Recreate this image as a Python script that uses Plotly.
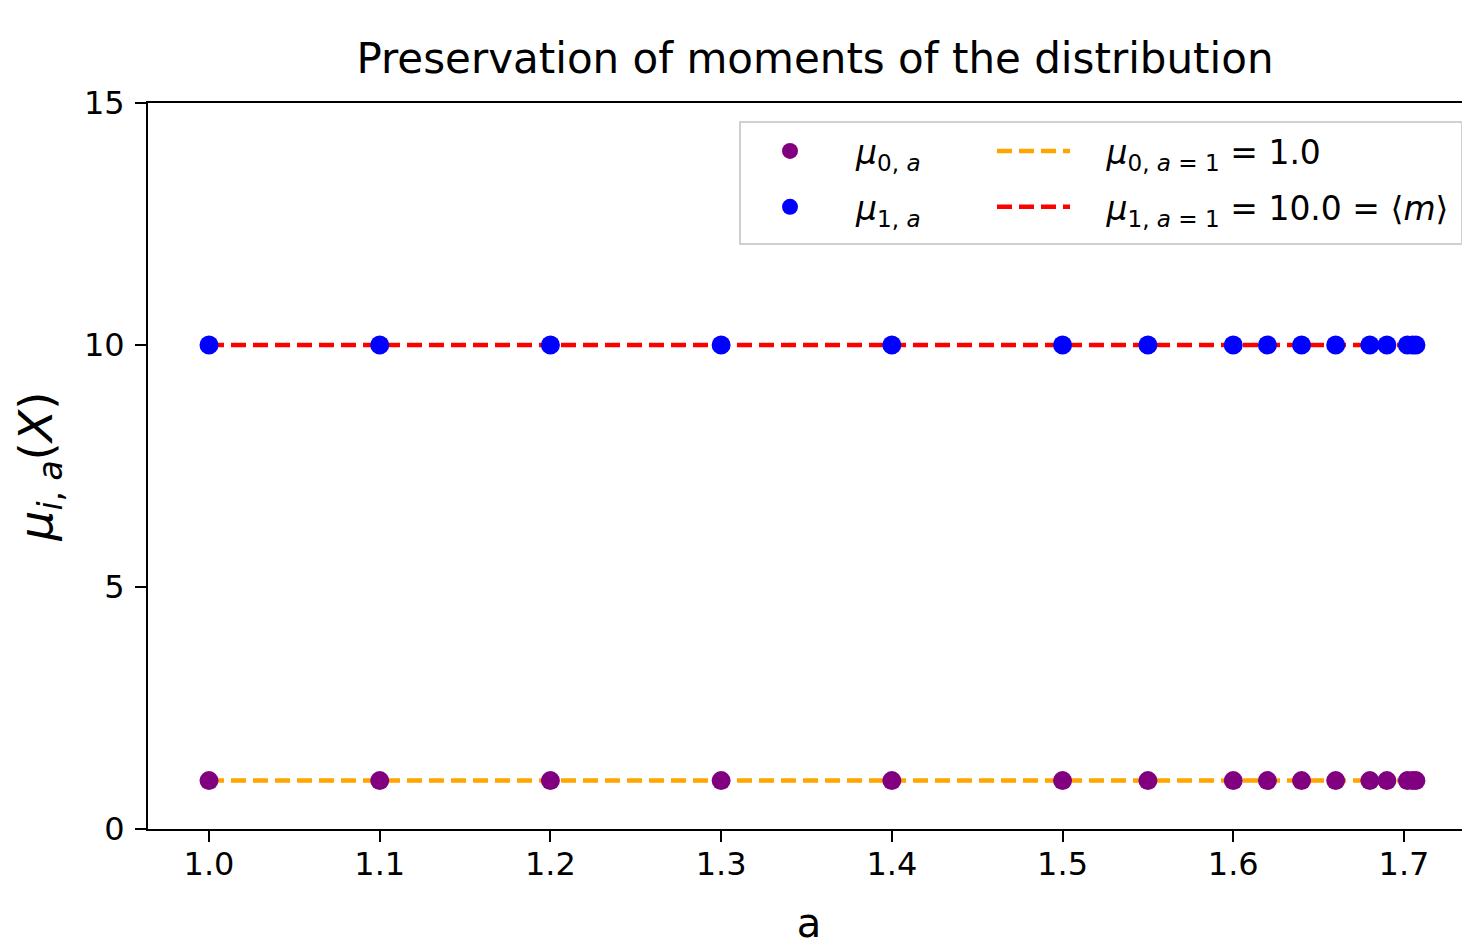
import plotly.graph_objects as go

# data
a_values = [1.0, 1.1, 1.2, 1.3, 1.4, 1.5, 1.55, 1.6, 1.62, 1.64, 1.66, 1.68, 1.69, 1.702, 1.705, 1.707]
mu0 = [1.0] * len(a_values)
mu1 = [10.0] * len(a_values)
mu0_ref = 1.0
mu1_ref = 10.0
x_ticks = [1.0, 1.1, 1.2, 1.3, 1.4, 1.5, 1.6, 1.7]
y_ticks = [0, 5, 10, 15]

FONT = "DejaVu Sans"
OFF = 8  # page body margin
W, H = 1470 - OFF, 946 - OFF
# plot area in page pixels: left 148, right 1470, top 103, bottom 829
L = 148 - OFF
R = 0
T = 103 - OFF
B = H - (829 - OFF)
pw, ph = W - L - R, H - T - B


def px_x(p):
    return (p - OFF - L) / pw


def px_y(p):
    return (829 - p) / ph


fig = go.Figure()

dash = "15px,7px"
NB = "\u00a0\u00a0\u00a0"
fig.add_trace(go.Scatter(
    x=[min(a_values), max(a_values)], y=[mu0_ref, mu0_ref], mode="lines",
    line=dict(color="orange", width=4.5, dash=dash),
    name=NB + "<i>μ</i><sub>0, <i>a</i> = 1</sub> = 1.0", legend="legend2", legendgroup="g1"))
fig.add_trace(go.Scatter(
    x=[min(a_values), max(a_values)], y=[mu1_ref, mu1_ref], mode="lines",
    line=dict(color="red", width=4.5, dash=dash),
    name=NB + "<i>μ</i><sub>1, <i>a</i> = 1</sub> = 10.0 = ⟨<i>m</i>⟩", legend="legend2", legendgroup="g2"))
fig.add_trace(go.Scatter(
    x=a_values, y=mu0, mode="markers",
    marker=dict(color="purple", size=19, line=dict(width=0)),
    name="<i>μ</i><sub>0, <i>a</i></sub>", legend="legend", legendgroup="g3"))
fig.add_trace(go.Scatter(
    x=a_values, y=mu1, mode="markers",
    marker=dict(color="blue", size=19, line=dict(width=0)),
    name="<i>μ</i><sub>1, <i>a</i></sub>", legend="legend", legendgroup="g4"))

legend_common = dict(
    bgcolor="rgba(0,0,0,0)", borderwidth=0,
    font=dict(family=FONT, size=33, color="black"),
    xanchor="left", yanchor="top", orientation="v",
    traceorder="grouped", tracegroupgap=10,
)

x_left = 1.0 - (209 - 148) / 1707.1
x_right = 1.0 + (1470 - 209) / 1707.1

fig.update_layout(
    width=W, height=H,
    margin=dict(l=L, r=R, t=T, b=B),
    paper_bgcolor="white", plot_bgcolor="white",
    font=dict(family=FONT, color="black"),
    title=dict(text="Preservation of moments of the distribution",
               font=dict(family=FONT, size=42, color="black"),
               x=(815 - OFF) / W, xanchor="center",
               y=1 - (58 - OFF) / H, yanchor="middle", xref="container", yref="container"),
    xaxis=dict(range=[x_left, x_right], tickvals=x_ticks, tickformat=".1f",
               showgrid=False, zeroline=False, showline=True, linecolor="black", linewidth=2,
               mirror=True, ticks="outside", ticklen=11, tickwidth=2, tickcolor="black",
               ticklabelstandoff=-5,
               tickfont=dict(family=FONT, size=32, color="black"),
               title=dict(text="a", font=dict(family=FONT, size=40, color="black"), standoff=30)),
    yaxis=dict(range=[0, 15], tickvals=y_ticks,
               showgrid=False, zeroline=False, showline=True, linecolor="black", linewidth=2,
               ticks="outside", ticklen=11, tickwidth=2, tickcolor="black",
               ticklabelstandoff=4,
               tickfont=dict(family=FONT, size=32, color="black"),
               title=dict(text="<i>μ</i><sub><i>i</i>, <i>a</i></sub>(<i>X</i>)",
                          font=dict(family=FONT, size=47, color="black"), standoff=16)),
    legend=dict(x=px_x(724), y=px_y(123), itemwidth=122, **legend_common),
    legend2=dict(x=px_x(992), y=px_y(123), itemwidth=73, **legend_common),
    showlegend=True,
    shapes=[dict(type="rect", xref="paper", yref="paper",
                 x0=px_x(740), x1=px_x(1462), y0=px_y(244), y1=px_y(122),
                 line=dict(color="#d0d0d0", width=2), fillcolor="rgba(255,255,255,0.8)",
                 layer="above")],
)

fig.write_html("out.html")
